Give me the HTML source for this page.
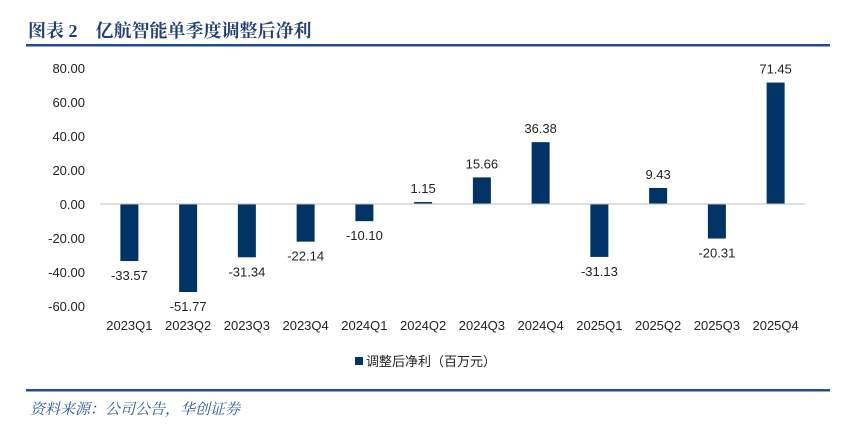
<!DOCTYPE html>
<html><head><meta charset="utf-8"><style>
body{margin:0;background:#fff;}
svg{display:block;font-family:"Liberation Sans","Noto Sans CJK SC",sans-serif;}
</style></head><body>
<svg id="c" width="855" height="438">
<text x="28" y="37" font-family="'Liberation Serif','Noto Serif CJK SC',serif" font-weight="bold" font-size="18" fill="#1f3f77">图表 2　亿航智能单季度调整后净利</text>
<rect x="26" y="44" width="804" height="2.5" fill="#1f4e8c"/>
<rect x="26" y="389" width="804" height="2.5" fill="#1f4e8c"/>
<text x="30" y="414" font-family="'Noto Serif CJK SC',serif" font-style="italic" font-size="15" fill="#2a5a9c">资料来源：公司公告，华创证券</text>
<g id="plot"></g>
<rect x="355" y="357" width="8" height="8" fill="#003366"/>
<text x="366" y="366" font-size="13" fill="#222">调整后净利（百万元）</text>
</svg>
<script>
const categories=["2023Q1","2023Q2","2023Q3","2023Q4","2024Q1","2024Q2","2024Q3","2024Q4","2025Q1","2025Q2","2025Q3","2025Q4"];
const values=[-33.57,-51.77,-31.34,-22.14,-10.10,1.15,15.66,36.38,-31.13,9.43,-20.31,71.45];
const ticks=[80,60,40,20,0,-20,-40,-60];
const NS="http://www.w3.org/2000/svg";
const g=document.getElementById('plot');
const x0=100,x1=805,y0=204,pxPer=1.7;
const step=(x1-x0)/categories.length;
function y(v){return y0-v*pxPer;}
function xc(i){return x0+step*(i+0.5);}
function mk(t,a,txt){const e=document.createElementNS(NS,t);for(const k in a)e.setAttribute(k,a[k]);if(txt!==undefined)e.textContent=txt;g.appendChild(e);return e;}
ticks.forEach(t=>{const e=mk('text',{x:85,y:y(t)+5,'text-anchor':'end','font-size':13,fill:'#222'},t.toFixed(2));

});
categories.forEach((c,i)=>{
const v=values[i];const top=Math.min(y(v),y0);const h=Math.abs(y(v)-y0);
const b=mk('rect',{x:xc(i)-9,y:top,width:18,height:Math.max(h,1),fill:'#003366'});


const ly=v>=0?y(v)-9:y(v)+19;
const l=mk('text',{x:xc(i),y:ly,'text-anchor':'middle','font-size':13,fill:'#222'},v.toFixed(2));


const xl=mk('text',{x:xc(i),y:330,'text-anchor':'middle','font-size':13,fill:'#222'},c);


});
const ax=mk('line',{x1:x0,x2:x1,y1:y0,y2:y0,stroke:'#bfbfbf','stroke-width':1});


</script>
</body></html>
